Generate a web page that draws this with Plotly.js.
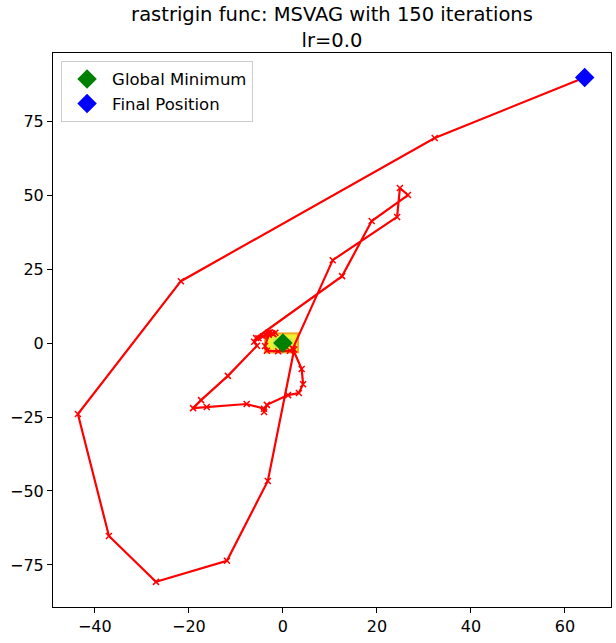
<!DOCTYPE html>
<html>
<head>
<meta charset="utf-8">
<script src="https://cdn.plot.ly/plotly-3.0.1.min.js"></script>
<style>html,body{margin:0;padding:0;background:#fff;}#chart{width:616px;height:643px;}</style>
</head>
<body>
<div id="chart"></div>
<script>
// Optimizer path (in order, ending at final position)
const pathX = [-2.0, -2.8, -3.6, -5.7, 12.6, 18.9, 26.6, 24.9, 24.3, 10.6, 2.1, 4.0, 4.3, 3.4, 1.1, -3.4, -4.0, -4.0, -7.7, -16.2, -19.1, -17.4, -11.7, -5.5, -6.1, -5.2, -4.2, -3.1, -2.3, -1.6, -3.0, -3.8, -3.4, -1.0, 1.5, 2.4, -3.2, -11.9, -27.0, -37.0, -43.6, -21.7, 32.3, 64.2];
const pathY = [3.0, 3.6, 2.6, 1.7, 22.6, 41.2, 50.0, 52.4, 42.6, 28.0, -1.9, -8.8, -13.9, -16.9, -17.6, -20.9, -23.3, -22.2, -20.6, -21.6, -22.0, -19.3, -11.1, -0.9, 0.4, 1.6, 2.3, 3.5, 3.3, 3.5, 2.8, -1.0, -2.6, -2.8, -2.6, -2.2, -46.6, -73.6, -80.7, -65.2, -24.0, 20.9, 69.3, 89.7];

// Background contour patch near the origin (levels)
const contourXEdges = [-4.0, -3.5, -2.0, 2.0, 3.0, 3.5];
const contourYEdges = [-3.4, -2.9, -1.5, 1.5, 2.9, 3.6];
const contourZ = [
  [3, 3, 3, 3, 3],
  [3, 2, 2, 2, 3],
  [3, 2, 1, 2, 3],
  [3, 2, 2, 2, 3],
  [3, 3, 3, 3, 3]
];

const globalMinX = [0];
const globalMinY = [0];
const finalX = [64.2];
const finalY = [89.7];

const xTicks = [-40, -20, 0, 20, 40, 60];
const yTicks = [-75, -50, -25, 0, 25, 50, 75];

const traces = [
  {
    type: 'heatmap', x: contourXEdges, y: contourYEdges, z: contourZ,
    colorscale: [[0, '#c6ea5c'], [0.5, '#eef22c'], [1, '#f6a623']],
    zmin: 1, zmax: 3, showscale: false, hoverinfo: 'skip', showlegend: false
  },
  {
    type: 'scatter', mode: 'lines+markers', x: pathX, y: pathY,
    line: {color: '#ff0000', width: 2.2},
    marker: {symbol: 'x-thin', size: 6, color: '#ff0000', line: {color: '#ff0000', width: 1.5}},
    showlegend: false
  },
  {
    type: 'scatter', mode: 'markers', x: globalMinX, y: globalMinY, name: 'Global Minimum',
    marker: {symbol: 'diamond', size: 15, color: '#008000'}
  },
  {
    type: 'scatter', mode: 'markers', x: finalX, y: finalY, name: 'Final Position',
    marker: {symbol: 'diamond', size: 15, color: '#0000ff'}
  }
];

const axisCommon = {
  showgrid: false, zeroline: false, showline: true, mirror: true,
  linecolor: '#000', linewidth: 1, ticks: 'outside', ticklen: 5, tickwidth: 1,
  tickcolor: '#000', tickfont: {family: 'DejaVu Sans', size: 16, color: '#000'}
};

const layout = {
  width: 616, height: 643,
  margin: {l: 53, r: 5, t: 53, b: 36},
  paper_bgcolor: '#fff', plot_bgcolor: '#fff',
  font: {family: 'DejaVu Sans', color: '#000'},
  title: {
    text: 'rastrigin func: MSVAG with 150 iterations<br>lr=0.0',
    x: 0.5, xref: 'paper', xanchor: 'center',
    y: 0.967, yref: 'container', yanchor: 'top',
    font: {family: 'DejaVu Sans', size: 19.5, color: '#000'}
  },
  xaxis: Object.assign({}, axisCommon, {range: [-48.9, 69.8], tickvals: xTicks}),
  yaxis: Object.assign({}, axisCommon, {range: [-89.2, 98.0], tickvals: yTicks}),
  legend: {
    x: 0.0145, y: 0.986, xanchor: 'left', yanchor: 'top',
    bgcolor: 'rgba(255,255,255,0.8)', bordercolor: '#cccccc', borderwidth: 1,
    itemwidth: 40,
    font: {family: 'DejaVu Sans', size: 16.5, color: '#000'}
  },
  showlegend: true
};

Plotly.newPlot('chart', traces, layout, {displayModeBar: false, staticPlot: true});
</script>
</body>
</html>
